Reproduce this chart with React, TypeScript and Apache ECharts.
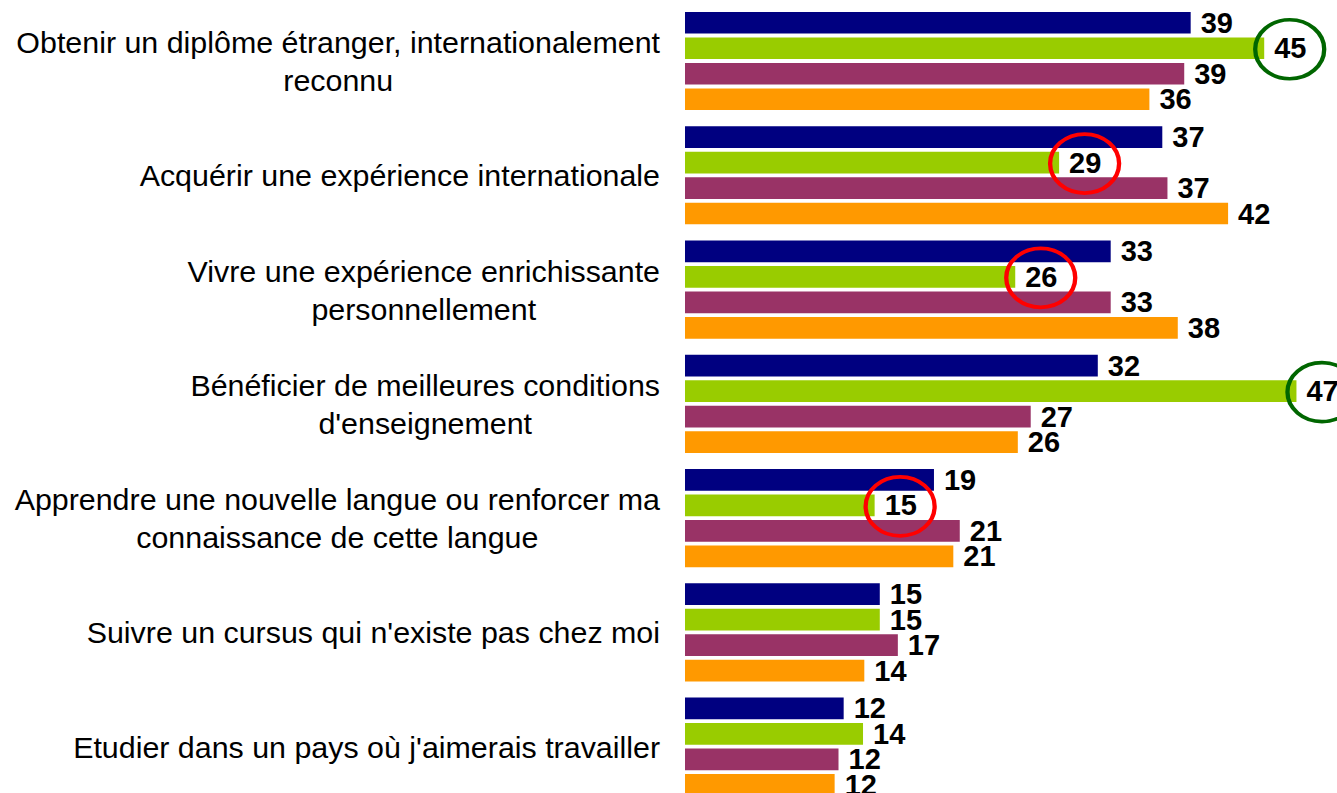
import React, { useEffect, useRef } from "react";
import * as echarts from "echarts";

const categories = [
  "Obtenir un diplôme étranger, internationalement\nreconnu",
  "Acquérir une expérience internationale",
  "Vivre une expérience enrichissante\npersonnellement",
  "Bénéficier de meilleures conditions\nd'enseignement",
  "Apprendre une nouvelle langue ou renforcer ma\nconnaissance de cette langue",
  "Suivre un cursus qui n'existe pas chez moi",
  "Etudier dans un pays où j'aimerais travailler",
];

const seriesNavy = [39.2, 37.0, 33.0, 32.0, 19.3, 15.1, 12.3];
const seriesGreen = [44.9, 29.0, 25.6, 47.4, 14.7, 15.1, 13.8];
const seriesPurple = [38.7, 37.4, 33.0, 26.8, 21.3, 16.5, 11.9];
const seriesOrange = [36.0, 42.1, 38.2, 25.8, 20.8, 13.9, 11.6];

const circledGood = [0, 3];
const circledBad = [1, 2, 4];

const colors = ["#000080", "#99CC00", "#993366", "#FF9900"];
const FONT = "'Liberation Sans', Arial, sans-serif";

export default function App() {
  const ref = useRef<HTMLDivElement>(null);
  useEffect(() => {
    const chart = echarts.init(ref.current!, null, { renderer: "svg" });
    const barWidth = 21.7;
    const barGapPct = 17.5;
    const step = barWidth * (1 + barGapPct / 100);
    const greenOffsetY = -0.5 * step;
    const ellipse = "path://M50,0A50,50,0,1,1,50,100A50,50,0,1,1,50,0Z";
    const mkBar = (name: string, data: number[], color: string) => ({
      name,
      type: "bar",
      data,
      barWidth,
      barGap: barGapPct + "%",
      itemStyle: { color },
      label: {
        show: true,
        position: "right",
        distance: 10,
        fontSize: 29,
        fontWeight: "bold",
        fontFamily: FONT,
        color: "#000",
        formatter: (p: any) => String(Math.round(p.value)),
      },
    });
    const mkCircle = (idx: number[], color: string) => ({
      type: "scatter",
      z: 10,
      silent: true,
      symbol: ellipse,
      symbolSize: [69, 59],
      symbolOffset: [25.5, greenOffsetY + 1],
      itemStyle: { color: "none", borderColor: color, borderWidth: 4, opacity: 1 },
      data: idx.map((i) => [seriesGreen[i], i]),
    });
    chart.setOption({
      animation: false,
      grid: {
        left: 685,
        width: 645,
        top: 3.85,
        height: 800,
        containLabel: false,
        outerBoundsMode: "none",
      },
      xAxis: {
        type: "value",
        min: 0,
        max: 50,
        show: false,
        splitLine: { show: false },
      },
      yAxis: {
        type: "category",
        inverse: true,
        data: categories,
        axisLine: { show: false },
        axisTick: { show: false },
        splitLine: { show: false },
        axisLabel: {
          margin: 25,
          align: "right",
          formatter: (v: string) =>
            v
              .split("\n")
              .map((l) => "{c|" + l + "}")
              .join("\n"),
          rich: {
            c: {
              align: "center",
              fontSize: 30.4,
              lineHeight: 38,
              fontFamily: FONT,
              color: "#000",
            },
          },
        },
      },
      series: [
        mkBar("A", seriesNavy, colors[0]),
        mkBar("B", seriesGreen, colors[1]),
        mkBar("C", seriesPurple, colors[2]),
        mkBar("D", seriesOrange, colors[3]),
        mkCircle(circledGood, "#006600"),
        mkCircle(circledBad, "#FF0000"),
      ],
    });
    return () => chart.dispose();
  }, []);
  return (
    <div
      style={{
        position: "fixed",
        left: 0,
        top: 0,
        width: 1337,
        height: 793,
        overflow: "hidden",
        background: "#fff",
      }}
    >
      <div ref={ref} style={{ width: 1337, height: 806 }} />
    </div>
  );
}
